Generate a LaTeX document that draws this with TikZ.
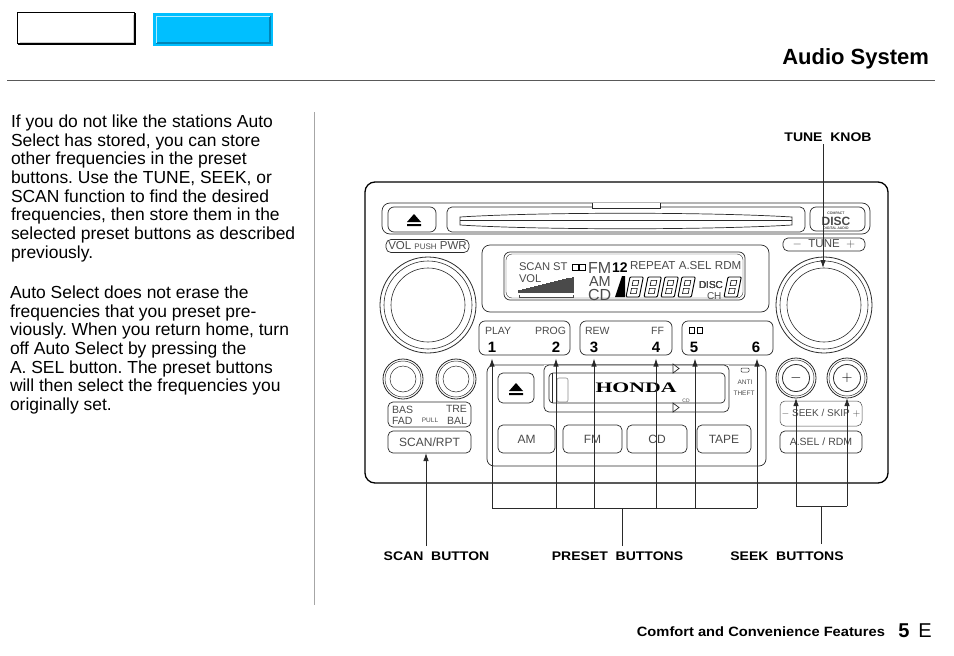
\documentclass[tikz,border=0pt]{standalone}
\usepackage{fontspec}
\setmainfont{Liberation Sans}
\newfontfamily\hondafont{Liberation Serif}
\usetikzlibrary{arrows.meta}
\definecolor{tabblue}{HTML}{00BFFF}
\definecolor{tabdark}{HTML}{0085B8}
\definecolor{inkgray}{HTML}{2A2A2A}
\definecolor{printgray}{HTML}{4A4A4A}
\tikzset{
	every node/.style={inner sep=0,outer sep=0},
	panel/.style={draw=inkgray,line width=0.7pt},
	btn/.style={panel,rounded corners=5pt,text=printgray,font=\fontsize{12}{12}\selectfont},
	knob/.style={panel,circle,line width=0.8pt},
	print/.style={text=printgray,font=\fontsize{10.5}{10.5}\selectfont},
	lcdtext/.style={text=printgray,font=\fontsize{11.2}{11.2}\selectfont},
	numkey/.style={text=black,font=\bfseries\fontsize{15}{15}\selectfont},
	callout/.style={font=\bfseries\fontsize{12.5}{12.5}\selectfont,text=black,xscale=1.12},
	pointer/.style={draw=inkgray,line width=0.9pt,-{Latex[length=8pt,width=5.5pt]}},
	busline/.style={draw=inkgray,line width=0.9pt},
}
\newcommand{\segdigit}[3]{%
	\begin{scope}[shift={(#1,#2)},xslant=0.2,scale=#3]
		\draw[draw=black,line width=0.9pt,rounded corners=1pt] (0,0) rectangle (14,21);
		\draw[draw=black,line width=0.6pt] (4,3.5) rectangle (10,9) (4,12) rectangle (10,17.5);
	\end{scope}}
\begin{document}
\begin{tikzpicture}[x=1pt,y=-1pt]
	\useasboundingbox (0,0) rectangle (954,656);
	% page furniture
	\node[draw=black,line width=1.5pt,minimum width=117pt,minimum height=31pt] (tabwhite) at (76,28) {};
	\draw[black,line width=1.5pt] (135,13) -- (135,44.5) -- (18,44.5);
	\draw[black!20,line width=1pt] (133,15) -- (133,42) -- (20,42);
	\node[draw=tabblue,fill=tabblue,line width=2pt,minimum width=118pt,minimum height=31pt] (tabcyan) at (213,29.5) {};
	\draw[tabdark,line width=1.2pt] (270,16) -- (270,43) -- (156,43);
	\draw[white!70!tabblue,line width=1pt] (156,43) -- (156,16) -- (270,16);
	\draw[black!65,line width=1pt] (7,80.5) -- (935,80.5);
	\draw[black!35,line width=0.8pt] (314.5,112) -- (314.5,605);
	\node[anchor=east,font=\bfseries\fontsize{22}{22}\selectfont] (pagetitle) at (929,59) {Audio System};
	% column text
	\node[anchor=north west,align=left,font=\frenchspacing\fontsize{17.45}{18.65}\selectfont] (parafirst) at (11,115) {If you do not like the stations Auto\\Select has stored, you can store\\other frequencies in the preset\\buttons. Use the TUNE, SEEK, or\\SCAN function to find the desired\\frequencies, then store them in the\\selected preset buttons as described\\previously.};
	\node[anchor=north west,align=left,font=\frenchspacing\fontsize{17.45}{18.65}\selectfont] (parasecond) at (10,286) {Auto Select does not erase the\\frequencies that you preset pre-\\viously. When you return home, turn\\off Auto Select by pressing the\\A. SEL button. The preset buttons\\will then select the frequencies you\\originally set.};
	\node[anchor=east,font=\bfseries\fontsize{13.5}{13.5}\selectfont,xscale=1.088] (footer) at (885,632) {Comfort and Convenience Features};
	\node[font=\bfseries\fontsize{20}{20}\selectfont] (pagenum) at (904,631) {5};
	\node[font=\fontsize{20}{20}\selectfont] (pageside) at (925,631) {E};
	% radio body
	\draw[draw=black,line width=1.3pt,rounded corners=10pt] (365,182) rectangle (888,483);
	\draw[panel,rounded corners=8pt] (382,203) rectangle (870,234);
	\node[btn,minimum width=48pt,minimum height=25pt,rounded corners=6pt] (ejecttop) at (412,219.5) {};
	\fill[black] (407,222) -- (414,214) -- (421,222) -- cycle (407,224) rectangle (421,226);
	\draw[panel,rounded corners=5pt] (447,207) rectangle (805,232);
	\draw[panel] (460,217) .. controls (540,212) and (710,212) .. (792,217) -- (792,225) .. controls (710,230) and (540,230) .. (460,225) -- cycle;
	\draw[panel] (460,220) -- (792,220);
	\draw[panel,fill=white] (592,203) -- (592,208) -- (660,208) -- (660,203);
	\draw[panel,rounded corners=6pt] (810,207) rectangle (865,231);
	\node[font=\fontsize{3.5}{3.5}\selectfont] (logotop) at (836,213) {COMPACT};
	\node[font=\bfseries\fontsize{12}{12}\selectfont,text=printgray] (logodisc) at (836,221) {DISC};
	\node[font=\fontsize{3.5}{3.5}\selectfont] (logobot) at (836,228) {DIGITAL AUDIO};
	% volume and tune knobs
	\node[btn,minimum width=83pt,minimum height=13pt,font=\fontsize{11.5}{11.5}\selectfont] (volbox) at (427.5,246) {VOL {\fontsize{8}{8}\selectfont PUSH} PWR};
	\node[btn,minimum width=82pt,minimum height=13pt,font=\fontsize{11.5}{11.5}\selectfont] (tunebox) at (824,244.5) {$-$\ \ TUNE\ \ $+$};
	\foreach \knobname/\kx in {volknob/428,tuneknob/824} {
		\node[knob,minimum size=96pt] (\knobname) at (\kx,305) {};
		\draw[panel,line width=0.6pt] (\knobname) circle (44pt) (\knobname) circle (37pt);
	}
	% display
	\draw[panel,rounded corners=8pt] (482,245) rectangle (769,312);
	\draw[panel,rounded corners=6pt] (504,252) rectangle (745,300);
	\draw[panel,rounded corners=6pt,line width=0.4pt] (506,254) rectangle (743,298);
	\node[lcdtext,anchor=west] (dispscan) at (519,267) {SCAN ST};
	\draw[black,line width=0.9pt] (572,264) rectangle (578,270) (579,264) rectangle (585,270);
	\node[anchor=west,text=printgray,font=\fontsize{16}{16}\selectfont] (dispfm) at (588,267.5) {FM};
	\node[anchor=west,font=\bfseries\fontsize{14}{14}\selectfont] (disptwelve) at (612,267.5) {12};
	\node[lcdtext,anchor=west,font=\fontsize{11.6}{11.6}\selectfont] (disprepeat) at (630,266) {REPEAT A.SEL RDM};
	\node[lcdtext,anchor=west] (dispvol) at (519,279) {VOL};
	\node[anchor=west,text=printgray,font=\fontsize{14.5}{14.5}\selectfont] (dispam) at (589,281.5) {AM};
	\node[anchor=west,text=printgray,font=\fontsize{16}{16}\selectfont] (dispcd) at (588,295) {CD};
	\foreach \i in {0,...,27}
		\draw[printgray,line width=1.1pt] (519+2*\i,293) -- (519+2*\i,{290-0.48*\i});
	\draw[printgray,line width=0.5pt] (519,295) -- (519,297) -- (573,297) -- (573,295);
	\fill[black] (615,297) -- (622,276) -- (625,276) -- (625,297) -- cycle;
	\foreach \dx in {630,648,665,682}
		\segdigit{\dx}{277}{0.95}
	\node[print,font=\fontsize{10}{10}\selectfont,anchor=west] (dispdisc) at (699,285) {DISC};
	\node[print,font=\fontsize{10}{10}\selectfont,anchor=west] (dispch) at (707,296) {CH};
	\segdigit{728}{277}{0.95}
	% preset keys
	\node[btn,minimum width=91pt,minimum height=34pt,rounded corners=6pt] (keysleft) at (524.5,338) {};
	\node[btn,minimum width=92pt,minimum height=34pt,rounded corners=6pt] (keysmid) at (626,338) {};
	\node[btn,minimum width=91pt,minimum height=34pt,rounded corners=6pt] (keysright) at (727.5,338) {};
	\node[print,anchor=west] (labplay) at (485,331) {PLAY};
	\node[print,anchor=east] (labprog) at (566,331) {PROG};
	\node[print,anchor=west] (labrew) at (585,331) {REW};
	\node[print,anchor=east] (labff) at (664,331) {FF};
	\draw[black,line width=1pt] (689,327) rectangle (694,333) (697,327) rectangle (702,333);
	\foreach \keyname/\kx/\txt in {keyone/492/1,keytwo/556/2,keythree/594/3,keyfour/656/4,keyfive/694/5,keysix/756/6}
		\node[numkey] (\keyname) at (\kx,347) {\txt};
	% tone knobs and their labels
	\foreach \knobname/\kx in {bassknob/403,trebleknob/456} {
		\node[knob,minimum size=40pt] (\knobname) at (\kx,379) {};
		\draw[panel,line width=0.5pt] (\knobname) circle (18pt) (\knobname) circle (13pt);
	}
	\node[btn,minimum width=83pt,minimum height=25pt] (tonebox) at (429.5,414.5) {};
	\node[print,anchor=west] (labbas) at (392,409.5) {BAS};
	\node[print,anchor=east] (labtre) at (467,409) {TRE};
	\node[print,anchor=west] (labfad) at (392,420.5) {FAD};
	\node[print,anchor=east] (labbal) at (467,420.5) {BAL};
	\node[print,font=\fontsize{6.5}{6.5}\selectfont] (labpull) at (430,420.5) {PULL};
	\node[btn,minimum width=83pt,minimum height=22pt,font=\fontsize{12}{12}\selectfont] (scanbtn) at (429.5,442) {SCAN/RPT};
	% centre panel
	\draw[panel,rounded corners=7pt] (487,365) rectangle (766,466);
	\node[btn,minimum width=36pt,minimum height=30pt] (ejectlow) at (516,388) {};
	\fill[black] (509,391) -- (516,383) -- (523,391) -- cycle (509,393) rectangle (523,395);
	\fill[white] (544,365) rectangle (729,412);
	\draw[panel,rounded corners=5pt] (544,365) rectangle (729,412);
	\draw[panel,rounded corners=4pt] (549,373) rectangle (725,403);
	\draw[panel,line width=0.5pt] (552,373) -- (552,403);
	\draw[black!45,line width=0.6pt,rounded corners=2pt] (557,378) rectangle (568,402);
	\draw[panel,fill=white] (673,364) -- (679,368.5) -- (673,373) -- cycle (673,403) -- (679,407.5) -- (673,412) -- cycle;
	\node[font=\hondafont\bfseries\fontsize{14.5}{14.5}\selectfont,xscale=1.5] (hondaword) at (636,388) {HONDA};
	\node[print,font=\fontsize{5}{5}\selectfont] (labcd) at (686,401) {CD};
	\draw[panel,line width=0.5pt,rounded corners=1pt] (741,368) rectangle (749,372);
	\node[print,font=\fontsize{6.5}{6.5}\selectfont] (labanti) at (745,382) {ANTI};
	\node[print,font=\fontsize{6.5}{6.5}\selectfont] (labtheft) at (744,393) {THEFT};
	\node[btn,minimum width=57pt,minimum height=28pt] (ambtn) at (526.5,439) {AM};
	\node[btn,minimum width=59pt,minimum height=28pt] (fmbtn) at (592.5,439) {FM};
	\node[btn,minimum width=60pt,minimum height=28pt] (cdbtn) at (657,439) {CD};
	\node[btn,minimum width=54pt,minimum height=28pt] (tapebtn) at (724,439) {TAPE};
	% seek side
	\foreach \knobname/\kx/\txt in {seekdown/796/$-$,seekup/847/$+$} {
		\node[knob,minimum size=40pt] (\knobname) at (\kx,378) {};
		\draw[panel,line width=0.5pt] (\knobname) circle (18pt);
		\node[knob,minimum size=27pt,font=\fontsize{15}{15}\selectfont] at (\kx,378) {\txt};
	}
	\node[btn,draw=printgray,line width=0.5pt,minimum width=82pt,minimum height=25pt,font=\fontsize{10}{10}\selectfont] (seekbox) at (821,413.5) {$-$ SEEK / SKIP $+$};
	\node[btn,minimum width=82pt,minimum height=22pt,font=\fontsize{10.5}{10.5}\selectfont] (aselbtn) at (821,442) {A.SEL / RDM};
	% callouts
	\node[callout] (tunelabel) at (828,137.5) {TUNE\ \ KNOB};
	\node[callout] (scanlabel) at (436.5,556.5) {SCAN\ \ BUTTON};
	\node[callout] (presetlabel) at (617.5,556.5) {PRESET\ \ BUTTONS};
	\node[callout] (seeklabel) at (787,556.5) {SEEK\ \ BUTTONS};
	\coordinate (tunetop) at (823,144);
	\coordinate (tunetip) at (823,268);
	\draw[pointer] (tunetop) -- (tunetip);
	\coordinate (scanfoot) at (426,546);
	\draw[pointer] (scanfoot) -- (scanfoot |- scanbtn.south);
	\coordinate (presetfoot) at (622,546);
	\coordinate (presetbus) at (622,508);
	\draw[busline] (presetfoot) -- (presetbus);
	\draw[busline] (492,508) -- (757,508);
	\foreach \keyname/\kx in {keyone/492,keytwo/556,keythree/594,keyfour/656,keyfive/695,keysix/757}
		\draw[pointer] (\kx,508) -- (\kx,358.5);
	\coordinate (seekfoot) at (821,544);
	\coordinate (seekbus) at (821,506);
	\draw[busline] (seekfoot) -- (seekbus);
	\draw[busline] (796,506) -- (847,506);
	\draw[pointer] (seekbus -| seekdown) -- (seekdown.south);
	\draw[pointer] (seekbus -| seekup) -- (seekup.south);
\end{tikzpicture}
\end{document}
